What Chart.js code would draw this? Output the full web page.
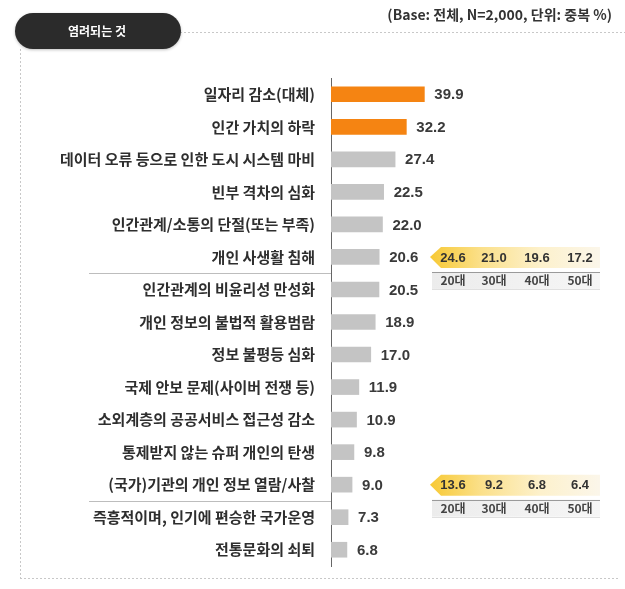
<!DOCTYPE html>
<html>
<head>
<meta charset="utf-8">
<script src="https://cdn.jsdelivr.net/npm/chart.js@4.4.1/dist/chart.umd.min.js"></script>
<style>
  html, body { margin: 0; padding: 0; background: #ffffff; }
  #wrap { width: 625px; height: 589px; position: relative; }
  canvas { display: block; }
</style>
</head>
<body>
<div id="wrap"><canvas id="c" width="625" height="589"></canvas></div>
<script>
const categories = [
  '일자리 감소(대체)',
  '인간 가치의 하락',
  '데이터 오류 등으로 인한 도시 시스템 마비',
  '빈부 격차의 심화',
  '인간관계/소통의 단절(또는 부족)',
  '개인 사생활 침해',
  '인간관계의 비윤리성 만성화',
  '개인 정보의 불법적 활용범람',
  '정보 불평등 심화',
  '국제 안보 문제(사이버 전쟁 등)',
  '소외계층의 공공서비스 접근성 감소',
  '통제받지 않는 슈퍼 개인의 탄생',
  '(국가)기관의 개인 정보 열람/사찰',
  '즉흥적이며, 인기에 편승한 국가운영',
  '전통문화의 쇠퇴'
];
const values = [39.9, 32.2, 27.4, 22.5, 22.0, 20.6, 20.5, 18.9, 17.0, 11.9, 10.9, 9.8, 9.0, 7.3, 6.8];
const highlightCount = 2;
const groupBreaks = [6, 13];
const ageGroups = ['20대', '30대', '40대', '50대'];
const privacyByAge = [24.6, 21.0, 19.6, 17.2];
const surveillanceByAge = [13.6, 9.2, 6.8, 6.4];
const callouts = [
  { row: 5, values: privacyByAge },
  { row: 12, values: surveillanceByAge }
];
const headerTitle = '염려되는 것';
const baseNote = '(Base: 전체, N=2,000, 단위: 중복 %)';

const ORANGE = '#F58412';
const GREY = '#C4C4C4';
const FONT = '"Noto Sans CJK KR", "Noto Sans", sans-serif';
const AXIS_X = 331;

const decorPlugin = {
  id: 'decor',
  beforeDraw(chart) {
    const ctx = chart.ctx;
    ctx.save();
    // dotted frame
    ctx.strokeStyle = '#c8c8c8';
    ctx.lineWidth = 1;
    ctx.setLineDash([2, 2]);
    ctx.beginPath();
    ctx.moveTo(180, 32.5); ctx.lineTo(625, 32.5);
    ctx.moveTo(20.5, 49); ctx.lineTo(20.5, 578);
    ctx.moveTo(20, 578.5); ctx.lineTo(620, 578.5);
    ctx.stroke();
    ctx.setLineDash([]);
    // header pill
    ctx.shadowColor = 'rgba(0,0,0,0.25)';
    ctx.shadowBlur = 3;
    ctx.shadowOffsetY = 1;
    ctx.fillStyle = '#2b2b2b';
    ctx.beginPath();
    ctx.roundRect(15, 13, 166, 36, 18);
    ctx.fill();
    ctx.shadowColor = 'transparent';
    ctx.fillStyle = '#ffffff';
    ctx.font = 'bold 12px ' + FONT;
    ctx.textAlign = 'center';
    ctx.textBaseline = 'middle';
    ctx.fillText(headerTitle, 97, 31);
    // base note
    ctx.fillStyle = '#333333';
    ctx.font = 'bold 14px ' + FONT;
    ctx.textAlign = 'right';
    ctx.fillText(baseNote, 612, 15);
    ctx.restore();
  },
  afterDatasetsDraw(chart) {
    const ctx = chart.ctx;
    const yScale = chart.scales.y;
    const meta = chart.getDatasetMeta(0);
    ctx.save();
    // value labels
    ctx.fillStyle = '#3a3a3a';
    ctx.font = 'bold 15px "Liberation Sans", Arial, sans-serif';
    ctx.textAlign = 'left';
    ctx.textBaseline = 'middle';
    meta.data.forEach((bar, i) => {
      ctx.fillText(values[i].toFixed(1), bar.x + 10, bar.y + 1);
    });
    // group separators
    ctx.strokeStyle = '#bdbdbd';
    ctx.lineWidth = 1;
    groupBreaks.forEach(b => {
      if (b >= categories.length) return;
      const y = Math.round((yScale.getPixelForValue(b - 1) + yScale.getPixelForValue(b)) / 2) + 0.5;
      ctx.beginPath();
      ctx.moveTo(89, y);
      ctx.lineTo(AXIS_X, y);
      ctx.stroke();
    });
    // callouts
    const centers = [453, 494, 537, 580];
    callouts.forEach(co => {
      const yc = yScale.getPixelForValue(co.row);
      const top = yc - 10, bot = yc + 11;
      const g = ctx.createLinearGradient(430, 0, 600, 0);
      g.addColorStop(0, '#F7C934');
      g.addColorStop(0.3, '#FBE08A');
      g.addColorStop(0.65, '#FDF1CC');
      g.addColorStop(1, '#FBF6EA');
      ctx.fillStyle = g;
      ctx.beginPath();
      ctx.moveTo(430, yc);
      ctx.lineTo(441, top);
      ctx.lineTo(600, top);
      ctx.lineTo(600, bot);
      ctx.lineTo(441, bot);
      ctx.closePath();
      ctx.fill();
      // label band
      const g2 = ctx.createLinearGradient(432, 0, 600, 0);
      g2.addColorStop(0, '#ececec');
      g2.addColorStop(1, '#f6f6f6');
      ctx.fillStyle = g2;
      ctx.fillRect(432, bot + 4, 168, 17);
      ctx.strokeStyle = '#9a9a9a';
      ctx.beginPath();
      ctx.moveTo(432, Math.round(bot + 4) + 0.5);
      ctx.lineTo(600, Math.round(bot + 4) + 0.5);
      ctx.stroke();
      ctx.strokeStyle = '#e0e0e0';
      ctx.beginPath();
      ctx.moveTo(432, Math.round(bot + 21) + 0.5);
      ctx.lineTo(600, Math.round(bot + 21) + 0.5);
      ctx.stroke();
      ctx.textAlign = 'center';
      ctx.textBaseline = 'middle';
      ctx.fillStyle = '#333333';
      ctx.font = 'bold 13px "Liberation Sans", Arial, sans-serif';
      co.values.forEach((v, i) => ctx.fillText(v.toFixed(1), centers[i], yc + 1));
      ctx.fillStyle = '#444444';
      ctx.font = 'bold 12px ' + FONT;
      ageGroups.forEach((a, i) => ctx.fillText(a, centers[i], bot + 13));
    });
    ctx.restore();
  }
};

new Chart(document.getElementById('c'), {
  type: 'bar',
  data: {
    labels: categories,
    datasets: [{
      data: values,
      backgroundColor: values.map((v, i) => i < highlightCount ? ORANGE : GREY),
      barThickness: 15,
      borderWidth: 0
    }]
  },
  options: {
    indexAxis: 'y',
    responsive: false,
    animation: false,
    devicePixelRatio: 1,
    layout: { padding: { top: 78, bottom: 23, left: 0, right: 60 } },
    plugins: { legend: { display: false }, tooltip: { enabled: false } },
    scales: {
      x: { display: false, min: 0, max: 100 },
      y: {
        afterFit(s) { s.width = AXIS_X; },
        grid: { display: false },
        border: { display: true, color: '#666666', width: 1 },
        ticks: {
          color: '#2e2e2e',
          padding: 8,
          font: { family: FONT, size: 15, weight: 'bold' }
        }
      }
    }
  },
  plugins: [decorPlugin]
});
</script>
</body>
</html>
